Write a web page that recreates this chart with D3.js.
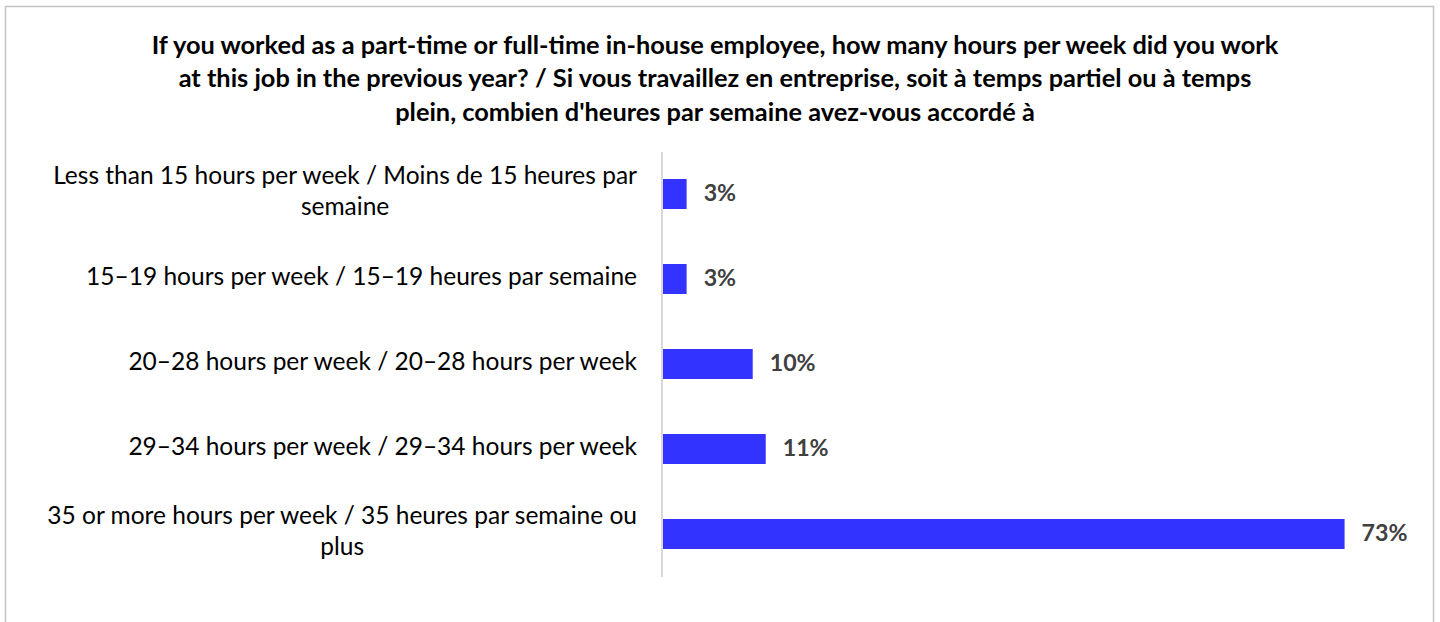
<!DOCTYPE html>
<html>
<head>
<meta charset="utf-8">
<script src="https://cdn.jsdelivr.net/npm/d3@7"></script>
<style>
  html, body { margin: 0; padding: 0; background: #fff; }
  svg { display: block; }
</style>
</head>
<body>
<svg id="chart" width="1440" height="622"></svg>
<script>
const titleText = "If you worked as a part-time or full-time in-house employee, how many hours per week did you work at this job in the previous year? / Si vous travaillez en entreprise, soit à temps partiel ou à temps plein, combien d'heures par semaine avez-vous accordé à";
const categories = [
  "Less than 15 hours per week / Moins de 15 heures par semaine",
  "15–19 hours per week / 15–19 heures par semaine",
  "20–28 hours per week / 20–28 hours per week",
  "29–34 hours per week / 29–34 hours per week",
  "35 or more hours per week / 35 heures par semaine ou plus"
];
const values = [2.7, 2.7, 9.8, 11.2, 73.4];

const FONT = "Lato, 'Open Sans', sans-serif";
const TITLE_SIZE = 25.35, LABEL_SIZE = 24.5, VALUE_SIZE = 23.2;
const svg = d3.select("#chart");

// frame
svg.append("rect")
  .attr("x", 5.5).attr("y", 6.5)
  .attr("width", 1428).attr("height", 640)
  .attr("fill", "#fff").attr("stroke", "#c4c4c4").attr("stroke-width", 1.5);

// wrap helper
function wrapLines(text, maxW, fontSize, weight) {
  const tmp = svg.append("text").attr("font-family", FONT)
    .attr("font-size", fontSize).attr("font-weight", weight);
  const words = text.split(" ");
  const lines = [];
  let cur = "";
  words.forEach(w => {
    const t = cur ? cur + " " + w : w;
    tmp.text(t);
    if (tmp.node().getComputedTextLength() > maxW && cur) {
      lines.push(cur); cur = w;
    } else cur = t;
  });
  if (cur) lines.push(cur);
  const widths = lines.map(l => { tmp.text(l); return tmp.node().getComputedTextLength(); });
  tmp.remove();
  return {lines, widths};
}

// title
const T = wrapLines(titleText, 1135, TITLE_SIZE, "bold");
svg.append("g").selectAll("text").data(T.lines).join("text")
  .attr("x", 715).attr("y", (d, i) => 47 + i * 33.5)
  .attr("text-anchor", "middle").attr("dominant-baseline", "middle")
  .attr("font-family", FONT).attr("font-size", TITLE_SIZE).attr("font-weight", "bold")
  .attr("fill", "#000").text(d => d);

// scales
const y = d3.scaleBand().domain(categories).range([151.5, 576.5]).paddingInner(55 / 85).paddingOuter(55 / 170);
const x = d3.scaleLinear().domain([0, 80]).range([661.5, 1406]);

// bars
svg.append("g").selectAll("rect").data(values).join("rect")
  .attr("x", x(0)).attr("y", (d, i) => y(categories[i]))
  .attr("width", d => x(d) - x(0)).attr("height", y.bandwidth())
  .attr("fill", "#3333ff");

// axis line
const yAxis = d3.axisLeft(y).tickSize(0).tickFormat("");
const ag = svg.append("g").attr("transform", `translate(${x(0)},0)`).call(yAxis);
ag.select(".domain").attr("stroke", "#d9d9d9").attr("stroke-width", 2);

// value labels
const fmt = d3.format(".0f");
svg.append("g").selectAll("text").data(values).join("text")
  .attr("x", d => x(d) + 17)
  .attr("y", (d, i) => y(categories[i]) + y.bandwidth() / 2 + 1)
  .attr("dominant-baseline", "middle")
  .attr("font-family", FONT).attr("font-size", VALUE_SIZE).attr("font-weight", "bold")
  .attr("fill", "#404040").text(d => fmt(d) + "%");

// category labels
const labelRight = 637;
categories.forEach((c, i) => {
  const W = wrapLines(c, 628, LABEL_SIZE, "normal");
  const maxW = d3.max(W.widths);
  const cx = labelRight - maxW / 2;
  const cy = y(c) + y.bandwidth() / 2 - 0.5;
  const lh = 30.5;
  svg.append("g").selectAll("text").data(W.lines).join("text")
    .attr("x", cx)
    .attr("y", (d, j) => cy + (j - (W.lines.length - 1) / 2) * lh)
    .attr("text-anchor", "middle").attr("dominant-baseline", "middle")
    .attr("font-family", FONT).attr("font-size", LABEL_SIZE)
    .attr("fill", "#000").text(d => d);
});
</script>
</body>
</html>
